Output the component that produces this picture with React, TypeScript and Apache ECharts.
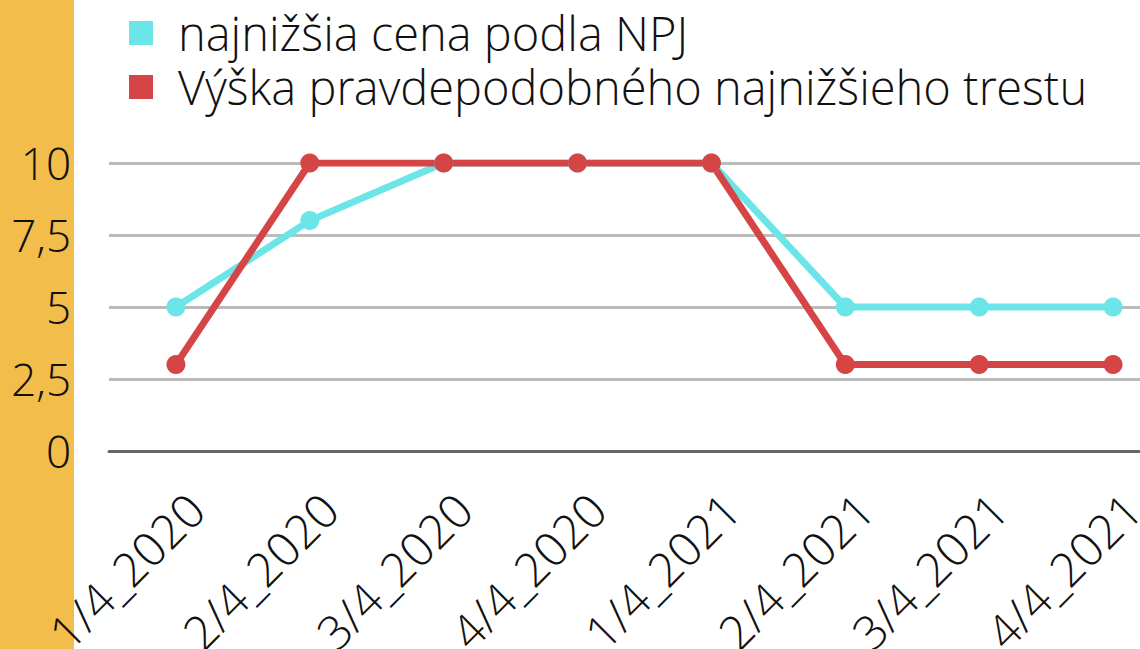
import React, { useEffect, useRef } from "react";
import * as echarts from "echarts";

const categories = ["1/4_2020", "2/4_2020", "3/4_2020", "4/4_2020", "1/4_2021", "2/4_2021", "3/4_2021", "4/4_2021"];
const seriesNames = ["najnižšia cena podla NPJ", "Výška pravdepodobného najnižšieho trestu"];
const npjValues = [5, 8, 10, 10, 10, 5, 5, 5];
const trestValues = [3, 10, 10, 10, 10, 3, 3, 3];
const colors = ["#6ce5e8", "#d64545"];

export default function App() {
  const ref = useRef<HTMLDivElement>(null);
  useEffect(() => {
    document.body.style.margin = "0";
    const chart = echarts.init(ref.current!, null, { renderer: "svg" });
    const font = "'Open Sans Light', 'Open Sans', sans-serif";
    chart.setOption({
      animation: false,
      backgroundColor: "#ffffff",
      graphic: [
        { type: "rect", left: 0, top: 0, shape: { width: 74, height: 649 }, style: { fill: "#f3bd4b" }, z: -10 },
      ],
      legend: {
        orient: "vertical",
        left: 129,
        top: 6,
        padding: 0,
        itemWidth: 24,
        itemHeight: 24,
        itemGap: 0,
        icon: "rect",
        textStyle: {
          fontFamily: font,
          fontWeight: 300,
          fontSize: 47,
          lineHeight: 54,
          color: "#111",
          padding: [0, 0, 0, 20],
        },
        data: seriesNames,
      },
      grid: { left: 109, top: 163, width: 1071, height: 288, containLabel: false, outerBoundsMode: "none" },
      xAxis: {
        type: "category",
        data: categories,
        boundaryGap: true,
        axisLine: { show: true, lineStyle: { color: "#666666", width: 3 } },
        axisTick: { show: false },
        axisLabel: {
          rotate: 45,
          margin: 70,
          padding: [0, -28, 0, 0],
          fontFamily: font,
          fontWeight: 300,
          fontSize: 47,
          color: "#111",
          interval: 0,
        },
      },
      yAxis: {
        type: "value",
        min: 0,
        max: 10,
        interval: 2.5,
        axisLine: { show: false },
        axisTick: { show: false },
        splitLine: { lineStyle: { color: "#bbbbbb", width: 3 } },
        axisLabel: {
          margin: 38,
          fontFamily: font,
          fontWeight: 300,
          fontSize: 44,
          color: "#111",
          formatter: (v: number) => String(v).replace(".", ","),
        },
      },
      series: [
        {
          name: seriesNames[0],
          type: "line",
          data: npjValues,
          color: colors[0],
          symbol: "circle",
          symbolSize: 19,
          lineStyle: { width: 7 },
        },
        {
          name: seriesNames[1],
          type: "line",
          data: trestValues,
          color: colors[1],
          symbol: "circle",
          symbolSize: 19,
          lineStyle: { width: 7 },
        },
      ],
    });
    return () => chart.dispose();
  }, []);
  return <div ref={ref} style={{ position: "absolute", left: 0, top: 0, width: 1140, height: 649 }} />;
}
